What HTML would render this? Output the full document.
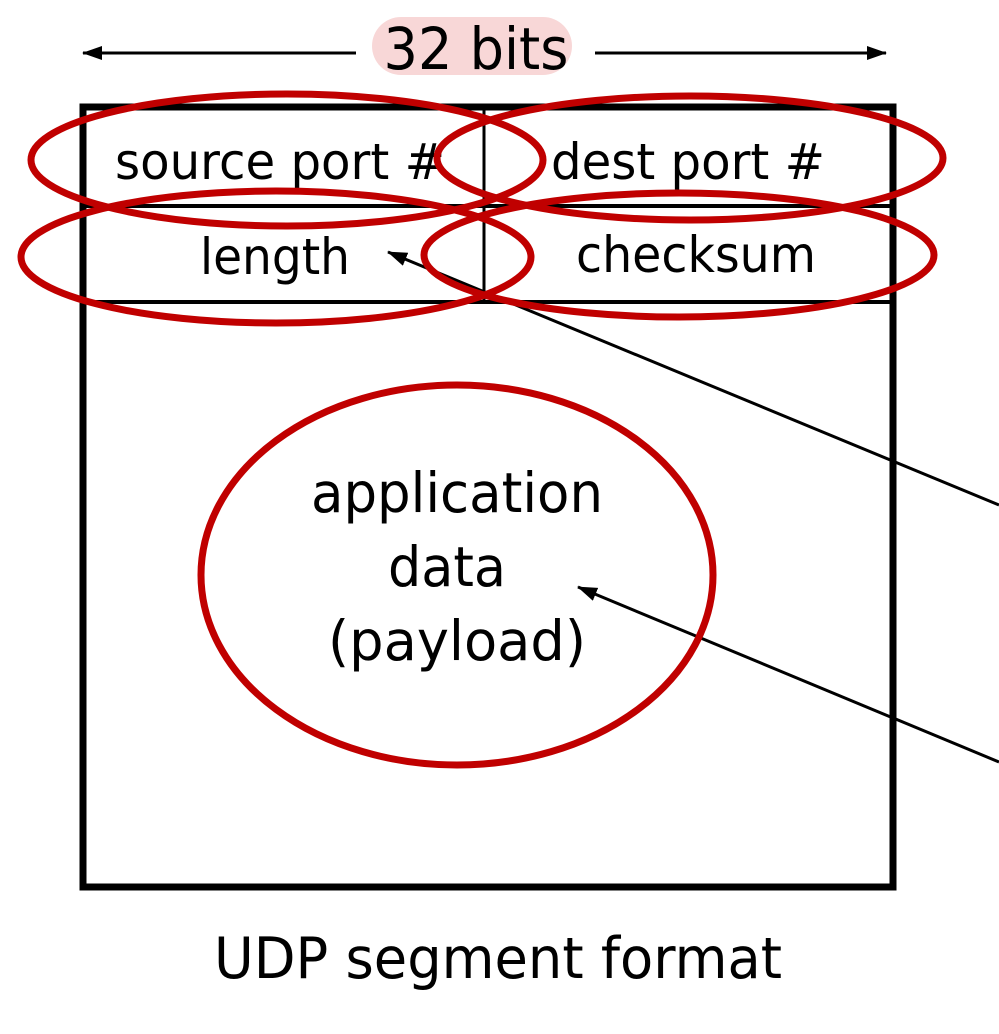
<!DOCTYPE html>
<html><head><meta charset="utf-8"><style>
html,body{margin:0;padding:0;background:#fff;}
svg{display:block;}
text{font-family:"DejaVu Sans","Liberation Sans",sans-serif;fill:#000;}
</style></head><body>
<svg width="999" height="1034" viewBox="0 0 999 1034" xmlns="http://www.w3.org/2000/svg">
<defs>
<marker id="ah2" viewBox="0 0 20 14" markerWidth="20" markerHeight="14" refX="19" refY="7" orient="auto" markerUnits="userSpaceOnUse">
<path d="M0,0 L20,7 L0,14 Z" fill="#000"/>
</marker>
</defs>
<!-- 32 bits arrow -->
<line x1="356" y1="53" x2="83" y2="53" stroke="#000" stroke-width="3" marker-end="url(#ah2)"/>
<line x1="595" y1="53" x2="886" y2="53" stroke="#000" stroke-width="3" marker-end="url(#ah2)"/>
<rect x="372" y="17" width="200" height="58" rx="29" fill="#f8d7d7"/>
<text x="476" y="69" font-size="58" text-anchor="middle" textLength="185" lengthAdjust="spacingAndGlyphs">32 bits</text>
<!-- box -->
<rect x="83" y="107" width="810" height="780" fill="none" stroke="#000" stroke-width="7"/>
<line x1="83" y1="206" x2="893" y2="206" stroke="#000" stroke-width="4"/>
<line x1="83" y1="302" x2="893" y2="302" stroke="#000" stroke-width="4"/>
<line x1="484" y1="107" x2="484" y2="302" stroke="#000" stroke-width="3"/>
<!-- text -->
<text x="280" y="179" font-size="50" text-anchor="middle" textLength="330" lengthAdjust="spacingAndGlyphs">source port #</text>
<text x="688" y="179" font-size="50" text-anchor="middle" textLength="274" lengthAdjust="spacingAndGlyphs">dest port #</text>
<text x="275" y="274" font-size="50" text-anchor="middle" textLength="150" lengthAdjust="spacingAndGlyphs">length</text>
<text x="696" y="272" font-size="50" text-anchor="middle" textLength="240" lengthAdjust="spacingAndGlyphs">checksum</text>
<text x="457" y="512" font-size="55" text-anchor="middle" textLength="292" lengthAdjust="spacingAndGlyphs">application</text>
<text x="447" y="586" font-size="55" text-anchor="middle" textLength="118" lengthAdjust="spacingAndGlyphs">data</text>
<text x="457" y="660" font-size="55" text-anchor="middle" textLength="258" lengthAdjust="spacingAndGlyphs">(payload)</text>
<text x="498" y="978" font-size="57" text-anchor="middle" textLength="568" lengthAdjust="spacingAndGlyphs">UDP segment format</text>
<!-- arrows -->
<line x1="999" y1="505" x2="388" y2="252" stroke="#000" stroke-width="3" marker-end="url(#ah2)"/>
<line x1="999" y1="762" x2="578" y2="587" stroke="#000" stroke-width="3" marker-end="url(#ah2)"/>
<!-- ellipses -->
<g fill="none" stroke="#c00000" stroke-width="7">
<ellipse cx="287" cy="160" rx="256" ry="66"/>
<ellipse cx="690" cy="158" rx="253" ry="62"/>
<ellipse cx="276" cy="257" rx="255" ry="66"/>
<ellipse cx="679" cy="255" rx="255" ry="62"/>
<ellipse cx="457" cy="575" rx="256" ry="190"/>
</g>
</svg>
</body></html>
